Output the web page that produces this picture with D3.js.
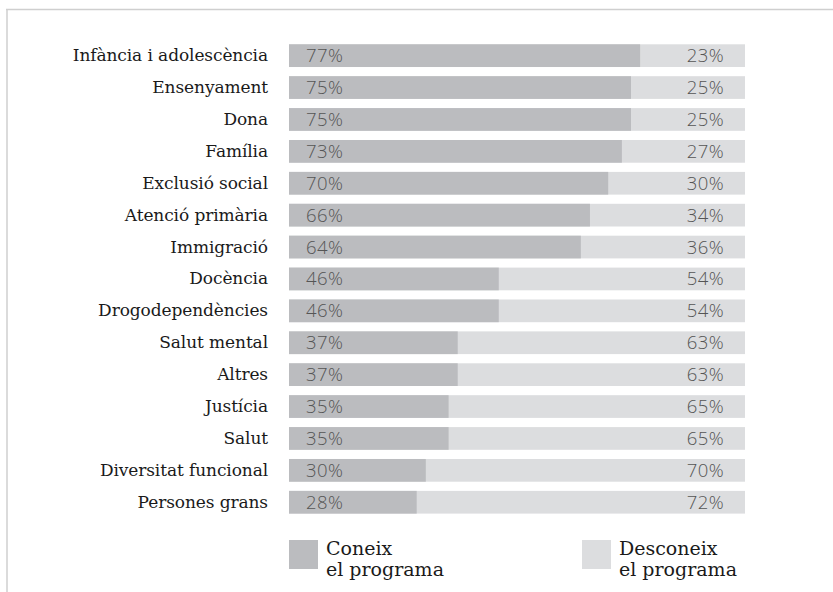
<!DOCTYPE html>
<html>
<head>
<meta charset="utf-8">
<script src="https://cdn.jsdelivr.net/npm/d3@7"></script>
<style>
  html, body { margin: 0; padding: 0; background: #fff; }
  svg { display: block; }
</style>
</head>
<body>
<svg id="chart" width="833" height="592"></svg>
<script>
const categories = ["Infància i adolescència","Ensenyament","Dona","Família","Exclusió social","Atenció primària","Immigració","Docència","Drogodependències","Salut mental","Altres","Justícia","Salut","Diversitat funcional","Persones grans"];
const coneix = [77,75,75,73,70,66,64,46,46,37,37,35,35,30,28];
const desconeix = [23,25,25,27,30,34,36,54,54,63,63,65,65,70,72];
const legendLabels = [["Coneix","el programa"],["Desconeix","el programa"]];

const colDark = "#bbbcbf", colLight = "#dcdddf";
const serif = "'DejaVu Serif',serif";
const sans = "'Open Sans',Lato,sans-serif";

const svg = d3.select("#chart");

// frame
svg.append("line").attr("x1",6).attr("x2",833).attr("y1",9.5).attr("y2",9.5).attr("stroke","#cfcfcf").attr("stroke-width",1.5);
svg.append("line").attr("x1",7).attr("x2",7).attr("y1",9).attr("y2",592).attr("stroke","#cfcfcf").attr("stroke-width",1.5);

const x = d3.scaleLinear().domain([0,100]).range([289,745]);
const y = d3.scaleBand().domain(categories).range([44.3,513.6]).paddingInner(0.288).paddingOuter(0);

const rows = svg.selectAll("g.row").data(categories).join("g").attr("class","row");

rows.append("rect").attr("x",x(0)).attr("y",d=>y(d)).attr("height",y.bandwidth())
  .attr("width",(d,i)=>x(coneix[i]+desconeix[i])-x(0)).attr("fill",colLight);
rows.append("rect").attr("x",x(0)).attr("y",d=>y(d)).attr("height",y.bandwidth())
  .attr("width",(d,i)=>x(coneix[i])-x(0)).attr("fill",colDark);

rows.append("text").attr("x",268).attr("y",d=>y(d)+y.bandwidth()/2+5.5)
  .attr("text-anchor","end").attr("font-family",serif).attr("font-size",17).attr("letter-spacing",-0.1).attr("fill","#1a1a1a")
  .text(d=>d);

rows.append("text").attr("x",306).attr("y",d=>y(d)+y.bandwidth()/2+6.5)
  .attr("font-family",sans).attr("font-weight",300).attr("font-size",18.5).attr("letter-spacing",0.4).attr("fill","#555")
  .text((d,i)=>coneix[i]+"%");
rows.append("text").attr("x",724).attr("y",d=>y(d)+y.bandwidth()/2+6.5).attr("text-anchor","end")
  .attr("font-family",sans).attr("font-weight",300).attr("font-size",18.5).attr("letter-spacing",0.4).attr("fill","#555")
  .text((d,i)=>desconeix[i]+"%");

// legend
const legendX = [289, 582];
const legendCols = [colDark, colLight];
const lg = svg.selectAll("g.leg").data(legendLabels).join("g").attr("class","leg");
lg.append("rect").attr("x",(d,i)=>legendX[i]).attr("y",540).attr("width",29).attr("height",29).attr("fill",(d,i)=>legendCols[i]);
lg.append("text").attr("font-family",serif).attr("font-size",19).attr("fill","#1a1a1a")
  .selectAll("tspan").data((d,i)=>d.map(t=>({t,i}))).join("tspan")
  .attr("x",d=>legendX[d.i]+37).attr("y",(d,j)=>554.5+j*21.5).text(d=>d.t);
</script>
</body>
</html>
